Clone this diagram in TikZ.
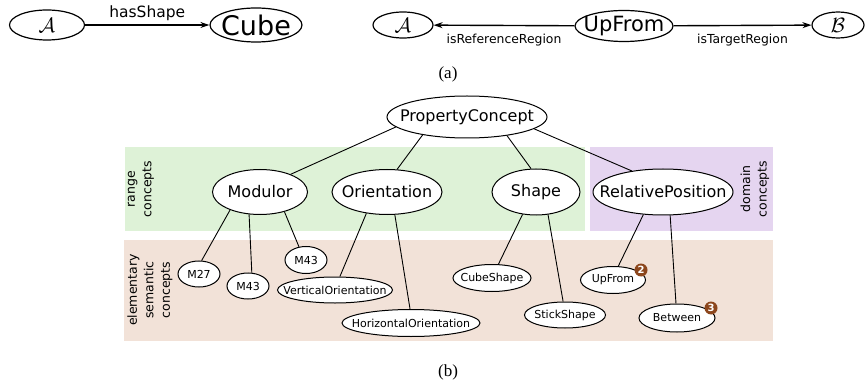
\documentclass[tikz,border=0pt]{standalone}
\usepackage{fontspec}
\setmainfont{Liberation Serif}
\newfontfamily\dvsans{DejaVu Sans}
\usepackage{xcolor}
\definecolor{rangebg}{RGB}{222,242,215}
\definecolor{domainbg}{RGB}{229,213,240}
\definecolor{elembg}{RGB}{242,226,216}
\definecolor{badgec}{RGB}{140,70,28}
\usepackage{tikz}
\usetikzlibrary{shapes.geometric,arrows.meta}
\newcommand{\nowid}[1]{\makebox[0pt]{#1}}
\tikzstyle{concept} = [ellipse, draw=black, line width=1pt, fill=white, inner sep=0pt, font=\dvsans\fontsize{16}{19}\selectfont]
\tikzstyle{elem} = [ellipse, draw=black, line width=1pt, fill=white, inner sep=0pt, font=\dvsans\fontsize{11}{13}\selectfont]
\tikzstyle{topnode} = [ellipse, draw=black, line width=1.2pt, fill=white, inner sep=0pt]
\tikzstyle{edge} = [line width=0.9pt]
\tikzstyle{rel} = [line width=1.4pt, -{Stealth[length=9pt,width=6pt]}]
\tikzstyle{rellabel} = [below=5pt, font=\dvsans\fontsize{12.4}{14}\selectfont]
\tikzstyle{area} = [rotate=90, align=center, font=\dvsans\fontsize{12.5}{16.5}\selectfont]
\tikzstyle{badge} = [circle, fill=badgec, text=white, inner sep=0pt, minimum size=13pt, font=\dvsans\bfseries\fontsize{10}{10}\selectfont]
\tikzstyle{caption} = [font=\fontsize{17}{20}\selectfont]

\begin{document}
\begin{tikzpicture}[x=1pt,y=-1pt]
    \useasboundingbox (0,0) rectangle (866,387);

    % (a)
    \node[topnode, minimum width=75pt, minimum height=30pt, font=\fontsize{22}{22}\selectfont] (a1) at (47,25) {\nowid{$\mathcal{A}$}};
    \node[topnode, minimum width=92pt, minimum height=34pt, font=\dvsans\fontsize{27}{30}\selectfont] (cube) at (256,25) {\nowid{Cube}};
    \node[topnode, minimum width=60pt, minimum height=26pt, font=\fontsize{20}{20}\selectfont] (a2) at (403,25) {\nowid{$\mathcal{A}$}};
    \node[topnode, minimum width=98pt, minimum height=31pt, font=\dvsans\fontsize{21}{24}\selectfont] (upbig) at (624,26) {\nowid{UpFrom}};
    \node[topnode, minimum width=52pt, minimum height=26pt, font=\fontsize{20}{20}\selectfont] (b1) at (838,25) {\nowid{$\mathcal{B}$}};

    \draw[rel] (a1) -- node[above, font=\dvsans\fontsize{15.5}{18}\selectfont] {hasShape} (cube);
    \draw[rel] (upbig) -- node[rellabel] {isReferenceRegion} (a2);
    \draw[rel] (upbig) -- node[rellabel] {isTargetRegion} (b1);

    \node[caption] (capa) at (448,74) {(a)};

    % (b)
    \fill[rangebg] (125,147) rectangle (585,231);
    \fill[domainbg] (590,147) rectangle (773,231);
    \fill[elembg] (124,240) rectangle (773,341);

    \node[area] (lrange) at (141,189) {range\\concepts};
    \node[area] (ldomain) at (755,189) {domain\\concepts};
    \node[area] (lelem) at (150,290) {elementary\\semantic\\concepts};

    \node[concept, minimum width=160pt, minimum height=42pt] (pc) at (467,117) {\nowid{PropertyConcept}};
    \node[concept, minimum width=95pt, minimum height=45pt] (mod) at (260,192) {\nowid{Modulor}};
    \node[concept, minimum width=110pt, minimum height=45pt] (ori) at (387,192) {\nowid{Orientation}};
    \node[concept, minimum width=88pt, minimum height=46pt] (shp) at (536,192) {\nowid{Shape}};
    \node[concept, minimum width=140pt, minimum height=46pt] (rp) at (663,192) {\nowid{RelativePosition}};

    \node[elem, minimum width=42pt, minimum height=26pt] (m27) at (199,274) {\nowid{M27}};
    \node[elem, minimum width=42pt, minimum height=26pt] (m43a) at (248,286) {\nowid{M43}};
    \node[elem, minimum width=42pt, minimum height=27pt] (m43b) at (306,260) {\nowid{M43}};
    \node[elem, minimum width=115pt, minimum height=26pt] (vert) at (335,290) {\nowid{VerticalOrientation}};
    \node[elem, minimum width=138pt, minimum height=27pt] (hori) at (411,323) {\nowid{HorizontalOrientation}};
    \node[elem, minimum width=78pt, minimum height=27pt] (cubes) at (492,278) {\nowid{CubeShape}};
    \node[elem, minimum width=81pt, minimum height=26pt] (stick) at (565,315) {\nowid{StickShape}};
    \node[elem, minimum width=65pt, minimum height=27pt] (upf) at (613,280) {\nowid{UpFrom}};
    \node[elem, minimum width=76pt, minimum height=28pt] (betw) at (677,318) {\nowid{Between}};

    \node[badge] (bd2) at (641,270) {2};
    \node[badge] (bd3) at (711,308) {3};

    \draw[edge] (pc.188) -- (mod.30);
    \draw[edge] (pc.202) -- (ori.66);
    \draw[edge] (pc.335) -- (shp.102);
    \draw[edge] (pc.350) -- (rp.146);
    \draw[edge] (mod.211) -- (m27.79);
    \draw[edge] (mod.244) -- (m43a.74);
    \draw[edge] (mod.321) -- (m43b.118);
    \draw[edge] (ori.226) -- (vert.70);
    \draw[edge] (ori.289) -- (hori.94);
    \draw[edge] (shp.239) -- (cubes.65);
    \draw[edge] (shp.298) -- (stick.98);
    \draw[edge] (rp.229) -- (upf.69);
    \draw[edge] (rp.287) -- (betw.94);

    \node[caption] (capb) at (448,372) {(b)};
\end{tikzpicture}
\end{document}
